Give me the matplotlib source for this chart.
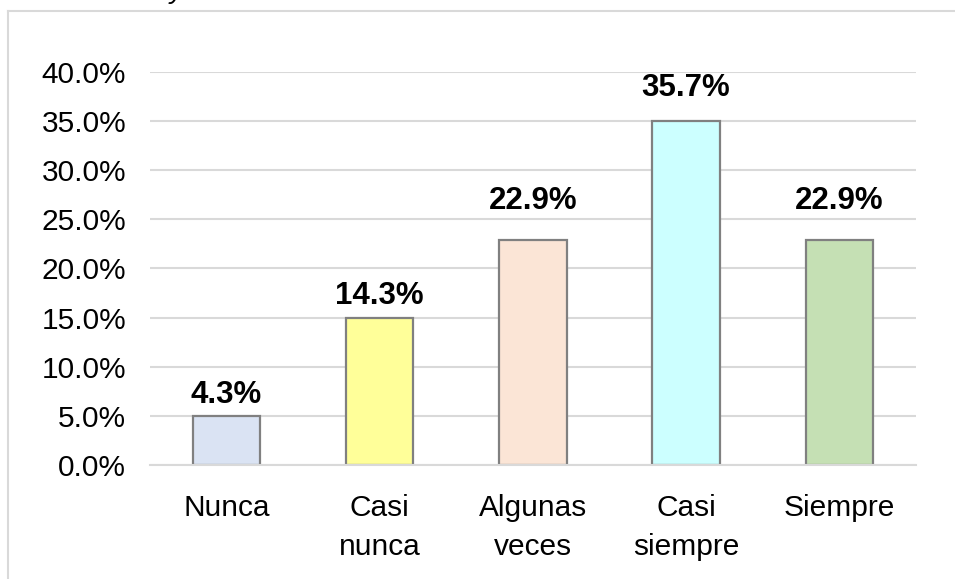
import matplotlib.pyplot as plt
from matplotlib.lines import Line2D

categories = ['Nunca', 'Casi\nnunca', 'Algunas\nveces', 'Casi\nsiempre', 'Siempre']
bar_values = [5.0, 15.0, 22.9, 35.0, 22.9]
value_labels = ['4.3%', '14.3%', '22.9%', '35.7%', '22.9%']
bar_colors = ['#dae3f3', '#ffff99', '#fbe5d6', '#ccffff', '#c5e0b4']
y_ticks = [0, 5, 10, 15, 20, 25, 30, 35, 40]

plt.rcParams['font.family'] = ['Liberation Sans', 'DejaVu Sans']

fig = plt.figure(figsize=(9.55, 5.79), dpi=100)
ax = fig.add_axes([0.157, 0.197, 0.802, 0.679])

x = list(range(len(categories)))
bars = ax.bar(x, bar_values, width=0.44, color=bar_colors,
              edgecolor='#808080', linewidth=1.6, zorder=3)

# label gap above each bar, in points (as placed in the original)
label_gap = [9.5, 9.5, 22, 18, 22]
for b, lab, gap in zip(bars, value_labels, label_gap):
    ax.annotate(lab, (b.get_x() + b.get_width() / 2, b.get_height()),
                xytext=(0, gap), textcoords='offset points',
                ha='center', va='baseline', fontsize=22.5, fontweight='bold',
                annotation_clip=False)

ax.set_xlim(-0.5, 4.5)
ax.set_ylim(0, 40)
ax.set_yticks(y_ticks)
ax.set_yticklabels([f'{v:.1f}%' for v in y_ticks], fontsize=21.5)
ax.set_xticks(x)
ax.set_xticklabels(categories, fontsize=21.5, linespacing=1.5, va='top')
ax.tick_params(axis='both', length=0)
ax.tick_params(axis='x', pad=21)
ax.tick_params(axis='y', pad=17)
ax.grid(axis='y', color='#d9d9d9', linewidth=1.5, zorder=0)
for s in ['top', 'right', 'left']:
    ax.spines[s].set_visible(False)
ax.spines['bottom'].set_color('#d9d9d9')
ax.spines['bottom'].set_linewidth(1.5)
ax.spines['bottom'].set_zorder(4)

# outer chart frame (cut off at right and bottom)
fig.add_artist(Line2D([8 / 955, 1], [1 - 11 / 579] * 2, color='#d9d9d9', lw=1.5))
fig.add_artist(Line2D([8 / 955] * 2, [0, 1 - 11 / 579], color='#d9d9d9', lw=1.5))
fig.text(0.178, 1.003, 'y', style='italic', fontsize=20, va='baseline')

fig.savefig('out.png', dpi=100)
